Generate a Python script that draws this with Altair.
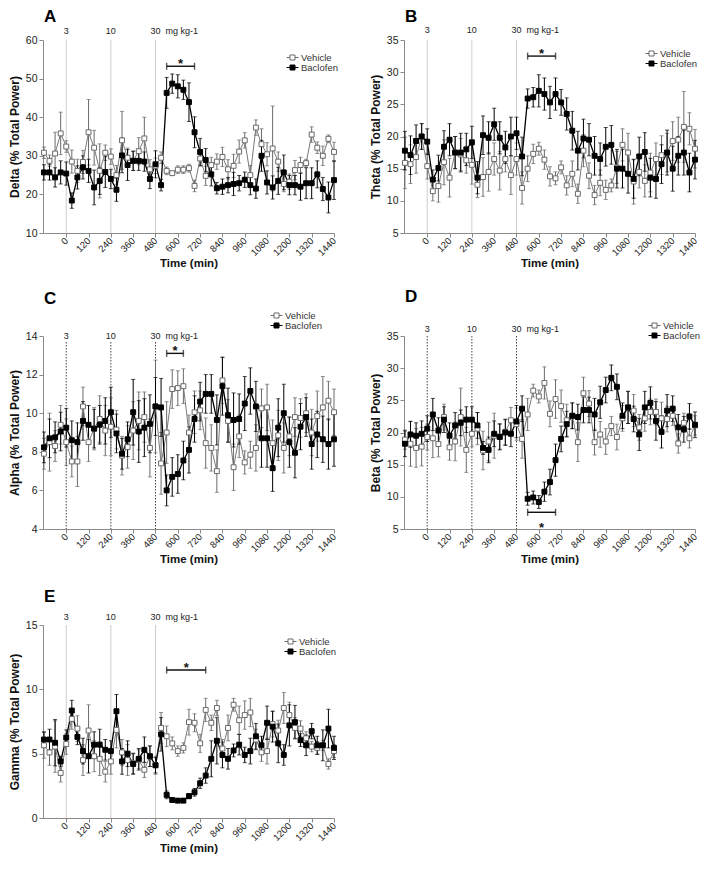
import altair as alt
import pandas as pd

TIME = list(range(-120, 1441, 30))
X_TICKS = [0, 120, 240, 360, 480, 600, 720, 840, 960, 1080, 1200, 1320, 1440]
SERIES = ["Vehicle", "Baclofen"]
DOSE_TIME = [0, 240, 480]
DOSE_LABEL = ["3", "10", "30"]
DOSE_UNIT = "mg kg-1"

# ---------------- Panel A : Delta ----------------
A_VEH = [30.8, 28.7, 30.6, 35.8, 32.4, 28.5, 26.1, 28.4, 36.1, 32.1, 26.1, 30.8, 29.8, 25.0, 34.0,
         29.5, 28.7, 31.2, 34.5, 26.5, 27.4, 29.5, 26.1, 25.5, 26.4, 26.4, 26.8, 22.2, 29.3, 24.8,
         27.6, 28.5, 29.7, 26.5, 27.4, 31.1, 34.0, 25.0, 37.3, 33.0, 30.4, 31.9, 28.5, 22.7, 23.3,
         26.3, 27.6, 28.1, 35.5, 32.1, 30.0, 34.4, 31.0]
A_VEH_ERR = [1.5, 1.5, 5.5, 5.5, 1.5, 3, 3, 3, 8.5, 4.5, 7, 2, 2, 2.5, 7.5, 2.5, 2.5, 3.5, 5.5, 2.5,
             2, 1.5, 1, 0.5, 1, 1, 1, 1.5, 2, 2.5, 2, 2, 2.5, 2.5, 3, 3, 2, 2.5, 2, 4, 3, 11, 2.5,
             2, 2, 2.5, 2, 1, 2, 1.5, 2.5, 1, 2.5]
A_BAC = [25.7, 25.7, 24.4, 25.7, 25.4, 18.4, 24.4, 27.0, 26.1, 21.8, 23.5, 25.8, 24.0, 21.2, 30.1,
         27.6, 28.7, 28.7, 28.5, 24.0, 27.8, 22.4, 46.3, 48.7, 48.0, 47.1, 43.9, 36.1, 31.0, 28.9,
         25.2, 21.6, 22.0, 22.4, 22.7, 22.9, 23.8, 22.4, 21.5, 30.0, 23.1, 21.8, 23.5, 25.7, 22.4,
         22.4, 22.0, 22.9, 22.9, 25.2, 21.4, 19.2, 23.7]
A_BAC_ERR = [2, 2, 2.5, 3, 3, 2, 3, 3, 3, 4.5, 3.5, 4, 2.5, 3, 4.5, 4, 2.5, 2.5, 2.5, 2.5, 3.5, 1.5,
             4, 2.5, 3, 2.5, 5, 4, 3.5, 3, 3, 1.5, 2, 2, 3, 2, 2, 2.5, 2.5, 4, 3, 3, 3.5, 4.5, 2.5,
             2.5, 3.5, 4, 4, 3.5, 3, 4, 5]

# ---------------- Panel B : Theta ----------------
B_VEH = [15.9, 15.7, 16.8, 20.0, 15.4, 11.5, 12.3, 16.0, 13.6, 17.5, 17.2, 16.3, 15.6, 12.5, 13.7,
         14.5, 16.5, 14.7, 16.5, 14.0, 16.5, 12.0, 15.0, 17.3, 18.1, 16.4, 13.8, 13.5, 15.2, 12.4,
         14.2, 11.1, 17.8, 13.9, 10.9, 12.8, 11.7, 12.4, 15.2, 18.7, 17.5, 13.0, 14.5, 13.1, 14.4,
         16.5, 17.1, 17.5, 19.3, 19.5, 21.5, 21.2, 18.1]
B_VEH_ERR = [4, 3, 2.5, 2, 2, 1.5, 2.5, 3.5, 3, 2.5, 2.5, 2, 3, 2, 3, 3, 2.5, 3, 2, 3, 2.5, 2.5, 2,
             1.5, 1, 1.5, 1.5, 1, 1, 1.5, 2, 1.5, 2.5, 2, 1.5, 2, 1.5, 1, 2.5, 2.5, 3, 3.5, 2.5,
             2.5, 3, 2.5, 3, 3, 3, 3.5, 5.5, 2.5, 3]
B_BAC = [17.8, 17.1, 19.3, 20.0, 19.2, 13.3, 15.1, 18.4, 19.5, 17.5, 17.5, 18.0, 19.1, 13.6, 20.2,
         19.8, 21.9, 19.8, 18.3, 20.0, 20.5, 16.9, 25.9, 26.1, 27.1, 26.6, 25.3, 26.6, 25.3, 23.5,
         20.9, 17.8, 19.7, 19.5, 17.0, 16.5, 18.4, 18.7, 15.0, 15.0, 14.2, 13.4, 16.9, 17.6, 13.6,
         13.4, 15.7, 17.5, 15.0, 17.0, 17.5, 14.4, 16.4]
B_BAC_ERR = [3, 3, 2.5, 2, 2, 1.5, 2, 2.5, 2.5, 2.5, 3, 2.5, 2.5, 2.5, 3, 2.5, 2.5, 2.5, 2.5, 3, 2.5,
             3, 1.5, 1.5, 2.5, 2.5, 2.5, 2.5, 2, 2.5, 3, 3, 3, 2.5, 3, 2.5, 3, 3, 3, 3, 3, 3, 3, 3,
             3, 3, 3, 3.5, 3.5, 3, 3.5, 3, 3]

# ---------------- Panel C : Alpha ----------------
C_VEH = [7.9, 8.5, 8.3, 9.4, 8.5, 7.5, 7.5, 10.35, 8.5, 9.2, 9.7, 9.1, 9.3, 9.15, 7.8, 8.25, 9.1,
         9.6, 9.8, 8.2, 10.35, 7.4, 9.0, 11.25, 11.3, 11.4, 9.0, 10.05, 10.15, 8.45, 8.2, 7.0, 11.7,
         9.6, 7.2, 8.8, 7.45, 7.85, 8.2, 10.25, 10.3, 8.45, 8.85, 8.2, 8.8, 9.8, 9.75, 10.0, 9.0,
         9.85, 10.3, 10.65, 10.05]
C_VEH_ERR = [0.8, 1.5, 0.8, 1.0, 1.2, 0.8, 1.3, 1.0, 1.0, 1.1, 1.2, 1.3, 1.5, 1.0, 1.0, 1.1, 1.5,
             1.5, 1.3, 1.5, 2.4, 1.6, 1.6, 1.0, 0.9, 0.9, 0.9, 1.1, 1.0, 1.3, 1.2, 1.1, 1.2, 1.1,
             1.2, 1.1, 0.6, 0.7, 1.2, 1.0, 1.2, 1.2, 1.3, 1.3, 1.0, 1.0, 1.0, 1.0, 1.2, 1.3, 1.6,
             1.0, 1.2]
C_BAC = [8.23, 8.7, 8.75, 9.05, 9.25, 8.6, 8.5, 9.6, 9.4, 9.2, 9.4, 9.6, 10.05, 8.95, 7.9, 8.65,
         10.05, 9.05, 9.25, 9.45, 10.35, 10.3, 6.0, 6.7, 6.85, 7.55, 8.1, 9.7, 10.6, 11.0, 11.0,
         9.65, 11.4, 9.9, 9.65, 9.7, 10.5, 11.15, 10.35, 8.7, 8.7, 7.15, 9.25, 10.0, 8.5, 7.95,
         9.3, 9.8, 8.4, 8.9, 8.65, 8.4, 8.65]
C_BAC_ERR = [0.8, 1.0, 0.8, 1.0, 1.0, 1.0, 1.0, 1.0, 1.0, 1.0, 1.0, 1.2, 1.3, 1.0, 0.8, 0.9, 1.7,
             1.6, 1.5, 1.5, 1.5, 1.5, 0.8, 1.0, 1.0, 1.0, 1.2, 1.2, 1.0, 1.0, 1.0, 1.3, 1.5, 1.4,
             1.4, 1.3, 1.4, 1.2, 1.3, 1.5, 1.5, 1.2, 1.5, 1.5, 1.3, 1.3, 1.2, 1.0, 1.3, 1.2, 1.2,
             1.3, 1.4]

# ---------------- Panel D : Beta ----------------
D_VEH = [18.9, 18.25, 17.6, 17.8, 19.3, 19.1, 18.2, 22.4, 17.7, 18.6, 22.4, 17.3, 19.8, 20.6, 17.2,
         18.6, 19.5, 19.4, 20.1, 21.9, 21.3, 19.0, 22.8, 26.5, 25.6, 27.7, 22.9, 25.2, 24.1, 21.9,
         22.6, 18.5, 26.1, 24.5, 18.5, 19.7, 18.6, 21.0, 19.3, 22.2, 23.9, 23.4, 20.8, 22.2, 23.2,
         23.2, 22.2, 22.1, 22.6, 18.3, 21.5, 19.1, 21.1]
D_VEH_ERR = [1.5, 3.5, 3, 3, 2, 3, 2, 2, 2, 3, 4.5, 3.5, 2, 2.5, 3, 3, 3.5, 2, 2, 2, 2.5, 3, 2.5, 1,
             1, 2.5, 2, 3, 2.5, 2.5, 2, 3, 2.5, 2, 2, 2, 2, 1.5, 2, 2, 2.5, 2.5, 2, 2, 2, 2, 2.5,
             2, 1.5, 1.5, 1.5, 1.5, 1.5]
D_BAC = [18.25, 19.7, 19.5, 19.8, 20.6, 22.8, 20.3, 22.0, 19.5, 21.1, 21.5, 22.0, 22.0, 21.1, 17.6,
         17.3, 19.8, 19.3, 20.0, 19.8, 21.7, 23.7, 9.7, 9.9, 9.2, 10.8, 12.3, 15.7, 19.0, 21.3,
         22.6, 22.4, 23.5, 23.5, 22.8, 24.7, 26.6, 28.5, 27.1, 22.6, 23.9, 22.1, 19.7, 23.9, 24.6,
         21.8, 20.1, 23.4, 23.7, 20.8, 20.5, 22.5, 21.2]
D_BAC_ERR = [2, 2, 2, 2, 2, 2.5, 2, 2, 2, 2, 2, 2, 2, 2, 1, 2, 2, 2, 2, 2, 2.5, 2, 1, 1, 1, 1.5, 2,
             2.5, 2, 2, 2, 2, 2, 2, 2.5, 2.5, 2, 2, 2, 2, 2.5, 2, 2.5, 2.5, 2.5, 3, 2.5, 2.5, 2, 2,
             2, 2, 2]

# ---------------- Panel E : Gamma ----------------
E_VEH = [5.65, 5.1, 5.55, 3.5, 5.75, 7.7, 6.95, 4.5, 6.8, 4.8, 4.6, 3.6, 4.4, 6.85, 5.1, 4.5, 4.25,
         4.5, 3.75, 4.8, 4.1, 7.0, 6.35, 5.8, 5.2, 5.45, 7.45, 7.4, 5.8, 8.4, 7.4, 8.55, 5.4, 7.0,
         8.8, 7.6, 8.0, 8.2, 6.1, 5.1, 5.2, 7.3, 6.8, 8.55, 8.0, 7.0, 6.95, 6.2, 5.55, 5.45, 5.65,
         4.2, 5.2]
E_VEH_ERR = [1, 1, 2, 0.7, 0.8, 0.8, 1, 1.2, 2, 1.2, 1.3, 0.8, 1, 1.4, 1, 1.2, 0.8, 0.8, 0.6, 0.8,
             0.7, 1.2, 0.8, 0.5, 0.4, 0.4, 1, 0.7, 0.7, 0.9, 0.6, 0.6, 0.7, 1, 0.5, 1.1, 1.1, 1.1,
             0.8, 0.7, 1, 1, 0.8, 1.2, 1, 0.8, 0.6, 0.5, 0.4, 0.5, 0.4, 0.4, 0.5]
E_BAC = [6.1, 6.1, 5.85, 4.4, 6.25, 8.35, 6.3, 5.2, 4.8, 5.7, 5.7, 5.3, 5.2, 8.3, 4.4, 5.0, 4.2,
         4.6, 5.3, 4.8, 4.1, 6.5, 1.8, 1.4, 1.35, 1.35, 1.7, 2.0, 2.7, 3.3, 4.6, 6.0, 4.9, 4.6,
         5.25, 5.7, 4.9, 5.2, 6.35, 5.65, 7.4, 7.1, 5.8, 4.9, 7.2, 7.45, 6.05, 5.65, 6.75, 5.65,
         5.65, 6.95, 5.45]
E_BAC_ERR = [0.6, 0.8, 1.8, 0.4, 0.6, 0.8, 0.6, 1, 1.3, 1, 1.2, 0.8, 0.8, 1.3, 1, 1, 0.8, 0.8, 1,
             0.8, 0.6, 1.3, 0.3, 0.15, 0.15, 0.15, 0.2, 0.3, 0.4, 0.6, 1.4, 1.8, 1, 0.8, 0.5, 0.8,
             0.6, 1, 1, 0.7, 1.3, 1.2, 1.5, 0.8, 1.6, 1.3, 0.5, 0.8, 0.6, 0.7, 1.2, 1.5, 0.9]

# significance brackets: start, end (min), level
A_SIG = [540, 690, 53.2]
B_SIG = [540, 690, 32.5]
C_SIG = [540, 630, 13.1]
D_SIG = [540, 690, 7.6]
E_SIG = [540, 750, 11.5]

W, H = 291, 193
FONT = "Liberation Sans"
VEH_COLOR = "#6a6a6a"
BAC_COLOR = "#000000"
LEG_PATH = "M-1.2,0H-0.5M0.5,0H1.2M-0.5,-0.5H0.5V0.5H-0.5Z"

PANELS = [
    dict(letter="A", ytitle="Delta (% Total Power)", ydom=[10, 60], yticks=[10, 20, 30, 40, 50, 60],
         veh=A_VEH, veh_err=A_VEH_ERR, bac=A_BAC, bac_err=A_BAC_ERR, sig=A_SIG, star_dy=-2,
         dotted=False, label_y=-9, line_y0=0, leg=(244, 12), let_y=-18),
    dict(letter="B", ytitle="Theta (% Total Power)", ydom=[5, 35], yticks=[5, 10, 15, 20, 25, 30, 35],
         veh=B_VEH, veh_err=B_VEH_ERR, bac=B_BAC, bac_err=B_BAC_ERR, sig=B_SIG, star_dy=-2,
         dotted=False, label_y=-10, line_y0=0, leg=(242, 8), let_y=-18),
    dict(letter="C", ytitle="Alpha (% Total Power)", ydom=[4, 14], yticks=[4, 6, 8, 10, 12, 14],
         veh=C_VEH, veh_err=C_VEH_ERR, bac=C_BAC, bac_err=C_BAC_ERR, sig=C_SIG, star_dy=-2,
         dotted=True, label_y=0, line_y0=6, leg=(228, -26), let_y=-32),
    dict(letter="D", ytitle="Beta (% Total Power)", ydom=[5, 35], yticks=[5, 10, 15, 20, 25, 30, 35],
         veh=D_VEH, veh_err=D_VEH_ERR, bac=D_BAC, bac_err=D_BAC_ERR, sig=D_SIG, star_dy=16,
         dotted=True, label_y=-7, line_y0=0, leg=(245, -16), let_y=-34),
    dict(letter="E", ytitle="Gamma (% Total Power)", ydom=[0, 15], yticks=[0, 5, 10, 15],
         veh=E_VEH, veh_err=E_VEH_ERR, bac=E_BAC, bac_err=E_BAC_ERR, sig=E_SIG, star_dy=-2,
         dotted=False, label_y=-8, line_y0=0, leg=(242, 11), let_y=-23),
]


def panel(p):
    n = len(TIME)
    df = pd.DataFrame({
        "time": TIME * 2,
        "value": p["veh"] + p["bac"],
        "err": p["veh_err"] + p["bac_err"],
        "series": ["Vehicle"] * n + ["Baclofen"] * n,
    })
    df["lo"] = df["value"] - df["err"]
    df["hi"] = df["value"] + df["err"]

    xs = alt.Scale(domain=[-125, 1440], nice=False, zero=False)
    ys = alt.Scale(domain=p["ydom"], nice=False, zero=False)
    x_axis = alt.Axis(values=X_TICKS, title="Time (min)", labelAngle=-45, labelFontSize=9.5,
                      format="d", labelAlign="right", labelBaseline="middle", labelPadding=2,
                      titlePadding=0, labelFlush=False, labelOverlap=False)
    y_axis = alt.Axis(values=p["yticks"], title=p["ytitle"], labelPadding=2, titlePadding=4)

    def X(f="time:Q"):
        return alt.X(f, scale=xs, axis=x_axis)

    def Y(f="value:Q"):
        return alt.Y(f, scale=ys, axis=y_axis)

    base = alt.Chart(df)
    layers = []

    dose_df = pd.DataFrame({"time": DOSE_TIME, "label": DOSE_LABEL})
    if p["dotted"]:
        rule_kw = dict(color="#444444", strokeDash=[1.5, 1.5], strokeWidth=1)
    else:
        rule_kw = dict(color="#cfcfcf", strokeWidth=1)
    layers.append(alt.Chart(dose_df).mark_rule(**rule_kw).encode(
        x=X(), y=alt.value(p["line_y0"]), y2=alt.value(H)))
    layers.append(alt.Chart(dose_df).mark_text(fontSize=9, baseline="middle", color="#222").encode(
        x=X(), y=alt.value(p["label_y"]), text="label:N"))
    unit_df = pd.DataFrame({"time": [DOSE_TIME[-1]], "label": [DOSE_UNIT]})
    layers.append(alt.Chart(unit_df).mark_text(fontSize=9, baseline="middle", align="left", dx=10,
                                               color="#222").encode(
        x=X(), y=alt.value(p["label_y"]), text="label:N"))

    letter_df = pd.DataFrame({"letter": [p["letter"]]})
    layers.append(alt.Chart(letter_df).mark_text(fontSize=17, fontWeight="bold", align="left",
                                                 baseline="alphabetic", color="#000").encode(
        x=alt.value(1), y=alt.value(p["let_y"]), text="letter:N"))

    styles = {"Vehicle": (VEH_COLOR, "#7a7a7a", 1.0), "Baclofen": (BAC_COLOR, "#000000", 1.3)}
    for s in SERIES:
        ec, lc, lw = styles[s]
        sub = base.transform_filter(alt.datum.series == s)
        layers.append(sub.mark_rule(color=ec, strokeWidth=1).encode(
            x=X(), y=Y("lo:Q"), y2="hi:Q"))
        for f in ("lo", "hi"):
            layers.append(sub.mark_tick(orient="horizontal", color=ec, size=4, thickness=1).encode(
                x=X(), y=Y(f + ":Q")))
    for s in SERIES:
        ec, lc, lw = styles[s]
        sub = base.transform_filter(alt.datum.series == s)
        layers.append(sub.mark_line(color=lc, strokeWidth=lw).encode(x=X(), y=Y()))

    leg = alt.Legend(title=None, orient="none", legendX=p["leg"][0], legendY=p["leg"][1],
                     symbolType=LEG_PATH, symbolSize=100, symbolStrokeWidth=1, labelFontSize=9.5,
                     labelColor="#333", rowPadding=0, labelOffset=3, padding=0)
    layers.append(base.mark_point(shape="square", filled=True, size=24, opacity=1,
                                  strokeWidth=1).encode(
        x=X(), y=Y(),
        fill=alt.Fill("series:N", scale=alt.Scale(domain=SERIES, range=["#ffffff", BAC_COLOR]),
                      legend=leg),
        stroke=alt.Stroke("series:N", scale=alt.Scale(domain=SERIES, range=[VEH_COLOR, BAC_COLOR]),
                          legend=leg),
    ))

    sig_df = pd.DataFrame({"x1": [p["sig"][0]], "x2": [p["sig"][1]], "y": [p["sig"][2]]})
    sig = alt.Chart(sig_df)
    layers.append(sig.mark_rule(color="#111", strokeWidth=1.4).encode(x=X("x1:Q"), x2="x2:Q", y=Y("y:Q")))
    layers.append(sig.transform_fold(["x1", "x2"], as_=["k", "xc"]).mark_tick(
        orient="vertical", size=7, thickness=1.4, color="#111").encode(x=X("xc:Q"), y=Y("y:Q")))
    layers.append(sig.transform_calculate(xm="(datum.x1 + datum.x2) / 2").mark_text(
        text="*", fontSize=13, fontWeight="bold", dy=p["star_dy"], color="#111").encode(
        x=X("xm:Q"), y=Y("y:Q")))

    return alt.layer(*layers).properties(width=W, height=H)


charts = [panel(p) for p in PANELS]
row1 = alt.hconcat(charts[0], charts[1], spacing=30).resolve_scale(fill="independent", stroke="independent")
row2 = alt.hconcat(charts[2], charts[3], spacing=30).resolve_scale(fill="independent", stroke="independent")
row3 = alt.hconcat(charts[4], spacing=30).resolve_scale(fill="independent", stroke="independent")

top = alt.vconcat(row1, row2, spacing=19).resolve_scale(fill="independent", stroke="independent")
chart = alt.vconcat(top, row3, spacing=23, padding=0).resolve_scale(
    fill="independent", stroke="independent"
).configure(font=FONT).configure_view(stroke=None).configure_axis(
    domainColor="#8a8a8a", tickColor="#8a8a8a", labelColor="#222", titleColor="#111",
    grid=False, tickSize=4, labelFontSize=10.5, titleFontSize=12, titleFontWeight="bold",
    labelFont=FONT, titleFont=FONT
).configure_axisX(titleFontSize=11.5).configure_legend(labelFont=FONT)

chart.save("out.html", embed_options={"renderer": "svg", "actions": False})
